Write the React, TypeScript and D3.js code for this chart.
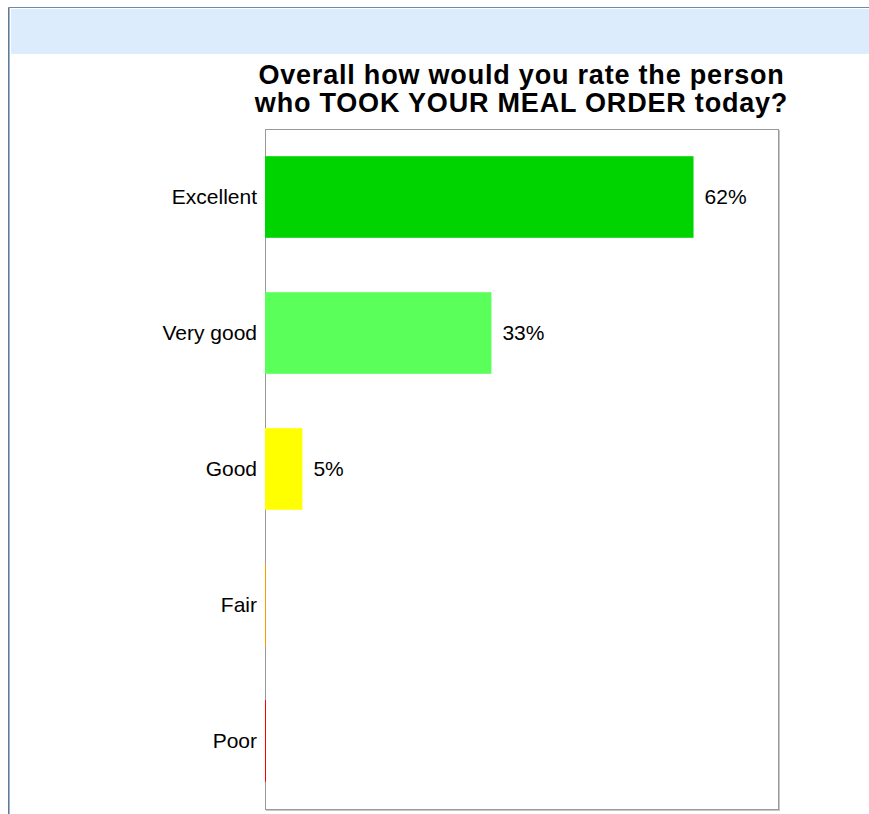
import React from "react";
import * as d3 from "d3";

const categories = ["Excellent", "Very good", "Good", "Fair", "Poor"];
const values = [61.9, 32.7, 5.4, 0, 0];
const colors = ["#00d400", "#5aff5a", "#ffff00", "#ff9900", "#ff0000"];
const titleLines = ["Overall how would you rate the person", "who TOOK YOUR MEAL ORDER today?"];

const W = 869;
const H = 814;
const plot = { left: 265, top: 129, right: 778, bottom: 809 };

export default function App() {
  const y = d3
    .scaleBand<string>()
    .domain(categories)
    .range([plot.top, plot.bottom])
    .paddingInner(0.4)
    .paddingOuter(0.2);
  const x = d3.scaleLinear().domain([0, 74.1]).range([plot.left, plot.right]);
  const font = "Arial, 'Liberation Sans', sans-serif";
  const cx = (plot.left + plot.right) / 2;

  return (
    <svg
      width={W}
      height={H}
      style={{ position: "absolute", left: 0, top: 0, background: "#fff" }}
    >
      {/* outer frame */}
      <rect x={11} y={9} width={W - 11} height={45} fill="#dcecfd" />
      <line x1={8.5} y1={7.5} x2={W} y2={7.5} stroke="#6f8aa6" strokeWidth={1} />
      <line x1={8.5} y1={7.5} x2={8.5} y2={H} stroke="#5f7a96" strokeWidth={1} />
      <line x1={9.5} y1={8} x2={9.5} y2={H} stroke="#9fb4c9" strokeWidth={1} />

      {/* title */}
      {titleLines.map((t, i) => (
        <text
          key={i}
          x={cx}
          y={84 + i * 28}
          textAnchor="middle"
          fontFamily={font}
          fontWeight="bold"
          fontSize={27}
          letterSpacing={0.8}
          fill="#000"
        >
          {t}
        </text>
      ))}

      {/* plot frame */}
      <rect
        x={plot.left + 0.5}
        y={plot.top + 0.5}
        width={plot.right - plot.left}
        height={plot.bottom - plot.top}
        fill="#fff"
        stroke="#9a9a9a"
        strokeWidth={1}
      />
      <line x1={plot.right + 1.5} y1={plot.top + 1} x2={plot.right + 1.5} y2={plot.bottom + 2} stroke="#c8c8c8" />
      <line x1={plot.left + 1} y1={plot.bottom + 1.5} x2={plot.right + 2} y2={plot.bottom + 1.5} stroke="#c8c8c8" />

      {/* bars */}
      {categories.map((c, i) => {
        const y0 = y(c)!;
        const bw = y.bandwidth();
        const w = x(values[i]) - x(0);
        return (
          <g key={c}>
            {values[i] > 0 ? (
              <rect x={x(0)} y={y0} width={w} height={bw} fill={colors[i]} />
            ) : (
              <line
                x1={x(0) + 0.5}
                x2={x(0) + 0.5}
                y1={y0}
                y2={y0 + bw}
                stroke={colors[i]}
                strokeWidth={1}
              />
            )}
            <text
              x={plot.left - 8}
              y={y0 + bw / 2}
              dy="0.35em"
              textAnchor="end"
              fontFamily={font}
              fontSize={21}
              fill="#000"
            >
              {c}
            </text>
            {values[i] > 0 && (
              <text
                x={x(values[i]) + 11}
                y={y0 + bw / 2}
                dy="0.35em"
                fontFamily={font}
                fontSize={21}
                fill="#000"
              >
                {Math.round(values[i])}%
              </text>
            )}
          </g>
        );
      })}
    </svg>
  );
}
